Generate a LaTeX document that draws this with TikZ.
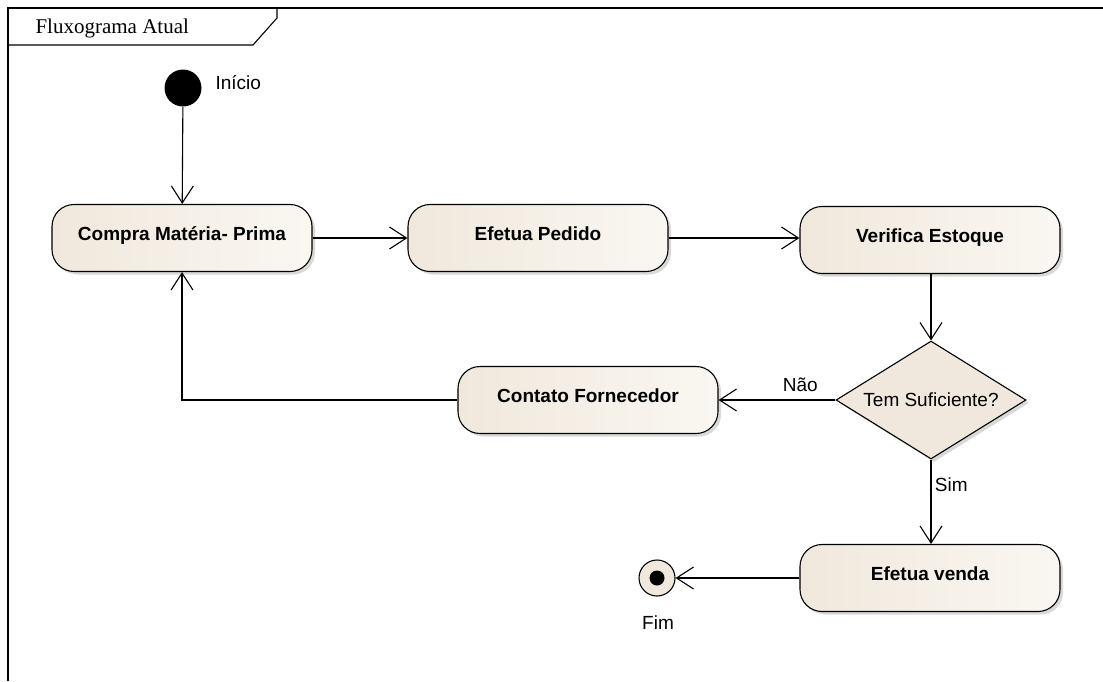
\documentclass[tikz,border=0pt]{standalone}
\usepackage{fontspec}
\setmainfont{Liberation Sans}
\newfontfamily\titlefont{Liberation Serif}
\usepackage{tikz}
\usetikzlibrary{arrows.meta}
\usetikzlibrary{shapes}
\usetikzlibrary{shadows}
\usetikzlibrary{positioning}

\definecolor{actFill}{RGB}{240,232,220}
\definecolor{actFillLight}{RGB}{250,247,242}

\begin{document}
\begin{tikzpicture}
      [x=1pt,y=-1pt,line width=1.1pt,
       activityBox/.style={rectangle,rounded corners=22pt,draw=black,
         left color=actFill,right color=actFillLight,
         drop shadow={shadow xshift=3pt,shadow yshift=-3pt,opacity=0.3},
         text height=14pt,text depth=10pt,
         minimum width=260pt,minimum height=67pt,font=\bfseries\fontsize{19}{22}\selectfont},
       decisionBox/.style={diamond,draw=black,fill=actFill,aspect=1.6,
         drop shadow={shadow xshift=3pt,shadow yshift=-3pt,opacity=0.3},
         inner sep=0pt,minimum width=190pt,minimum height=118pt,font=\fontsize{19}{22}\selectfont},
       flowLabel/.style={font=\fontsize{19}{22}\selectfont},
       flow/.style={-{Straight Barb[length=17pt,width=22pt]}}]
      \useasboundingbox (0,0) rectangle (1103,681);
      % frame
      \draw (8,681) -- (8,8) -- (1103,8);
      \draw (8,45) -- (253,45) -- (277,18) -- (277,8);
      \node[anchor=west,inner sep=0pt,font=\titlefont\fontsize{21}{24}\selectfont] (title) at (35,28) {Fluxograma Atual};
      % nodes
      \node[circle,fill=black,minimum size=37pt,inner sep=0pt] (inicio) at (183,88) {};
      \node[flowLabel,anchor=west,inner sep=0pt] (inicioLabel) at (215,83) {Início};
      \node[activityBox] (compra) at (182,238) {Compra Matéria- Prima};
      \node[activityBox] (pedido) at (538,238) {Efetua Pedido};
      \node[activityBox] (estoque) at (930,240) {Verifica Estoque};
      \node[decisionBox] (suficiente) at (931,400) {Tem Suficiente?};
      \node[activityBox] (contato) at (588,400) {Contato Fornecedor};
      \node[activityBox] (venda) at (930,578) {Efetua venda};
      \node[circle,draw=black,fill=actFill,minimum size=36pt,inner sep=0pt] (fim) at (657,578) {};
      \node[circle,fill=black,minimum size=15pt,inner sep=0pt] (fimDot) at (fim) {};
      \node[flowLabel] (fimLabel) at (658,623) {Fim};
      % connectors
      \draw[flow] (inicio) -- (compra);
      \draw[flow] (compra.east |- pedido.west) -- (pedido);
      \draw[flow] (pedido) -- (estoque.west |- pedido.east);
      \draw[flow] (estoque.south -| suficiente.north) -- (suficiente);
      \draw[flow] (suficiente) -- node[flowLabel,above=4pt,pos=0.3] {Não} (contato);
      \draw[flow] (contato.west) -| (compra.south);
      \draw[flow] (suficiente) -- node[flowLabel,right,pos=0.3] {Sim} (suficiente.south |- venda.north);
      \draw[flow] (venda) -- (fim);
    \end{tikzpicture}
\end{document}
